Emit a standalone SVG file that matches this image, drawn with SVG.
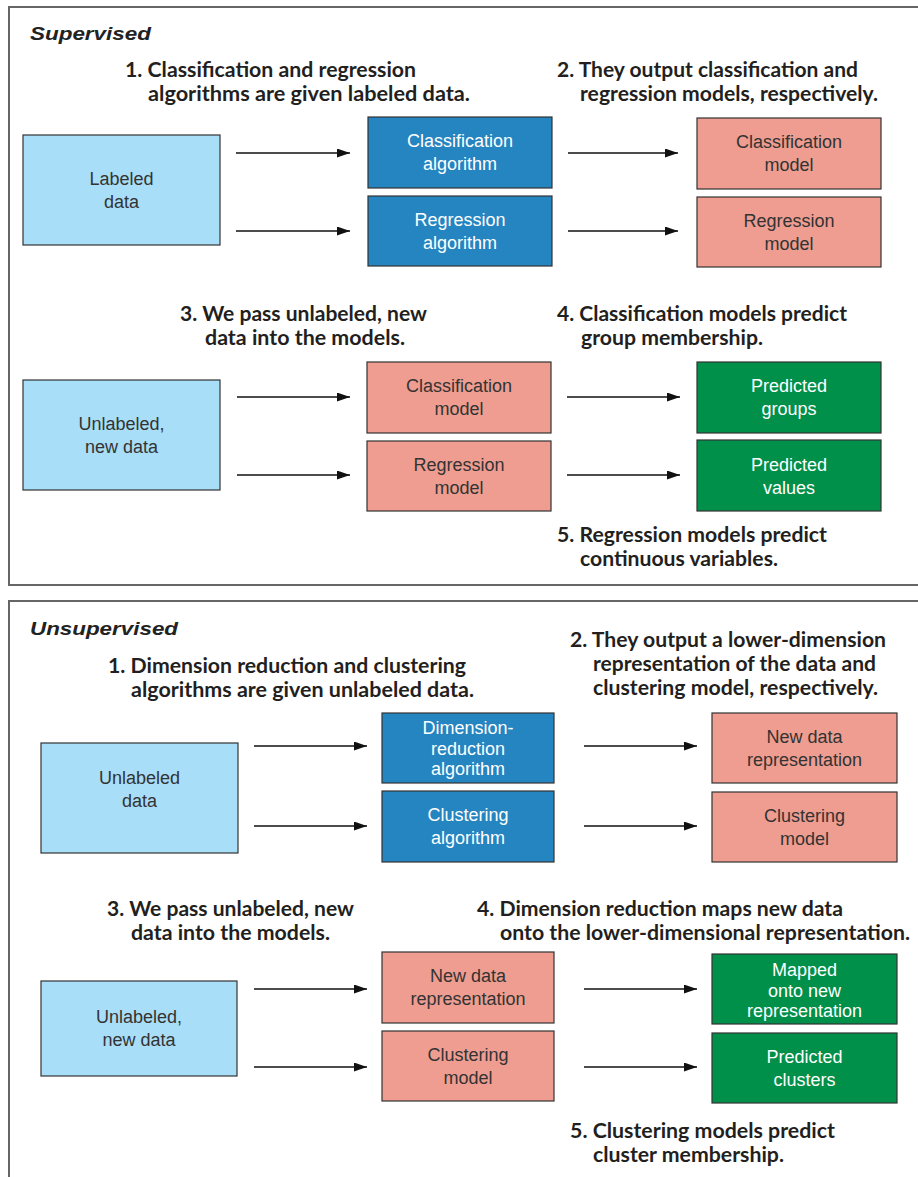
<svg xmlns="http://www.w3.org/2000/svg" width="918" height="1177" viewBox="0 0 918 1177">
  <style>
    .frame { fill: none; stroke: #666666; stroke-width: 2; }
    .box { stroke: #333333; stroke-width: 1.2; }
    .input { fill: #A9DEF8; }
    .algo { fill: #2585C0; }
    .model { fill: #EE9D90; }
    .result { fill: #00904A; }
    .lbl { font-family: "Liberation Sans", Arial, sans-serif; font-size: 18px; text-anchor: middle; }
    .dark { fill: #333333; }
    .light { fill: #FFFFFF; }
    .title { font-family: "Liberation Sans", Arial, sans-serif; font-size: 19px; font-weight: bold; font-style: italic; fill: #222222; }
    .step { font-family: Lato, "Open Sans", sans-serif; font-size: 21px; font-weight: bold; fill: #231F20; }
    .conn line { stroke: #111111; stroke-width: 1.3; marker-end: url(#arrow); }
  </style>
  <defs>
    <marker id="arrow" markerUnits="userSpaceOnUse" markerWidth="14" markerHeight="10" refX="13" refY="4.5" orient="auto">
      <path d="M0,0 L13,4.5 L0,9 Z" fill="#111111"/>
    </marker>
  </defs>

  <rect width="918" height="1177" fill="#FFFFFF"/>

  <!-- section frames -->
  <rect class="frame" x="9" y="7" width="915" height="578"/>
  <path class="frame" d="M924 601 H9 V1180"/>

  <!-- section titles -->
  <text class="title" x="30" y="40" textLength="121" lengthAdjust="spacingAndGlyphs">Supervised</text>
  <text class="title" x="30" y="635" textLength="148" lengthAdjust="spacingAndGlyphs">Unsupervised</text>

  <!-- step captions, supervised -->
  <g id="step-s1">
    <text class="step" x="125" y="77" textLength="291" lengthAdjust="spacingAndGlyphs">1. Classification and regression</text>
    <text class="step" x="148" y="101" textLength="322" lengthAdjust="spacingAndGlyphs">algorithms are given labeled data.</text>
  </g>
  <g id="step-s2">
    <text class="step" x="557" y="77" textLength="301" lengthAdjust="spacingAndGlyphs">2. They output classification and</text>
    <text class="step" x="580" y="101" textLength="298" lengthAdjust="spacingAndGlyphs">regression models, respectively.</text>
  </g>
  <g id="step-s3">
    <text class="step" x="180" y="321" textLength="247" lengthAdjust="spacingAndGlyphs">3. We pass unlabeled, new</text>
    <text class="step" x="205" y="345" textLength="200" lengthAdjust="spacingAndGlyphs">data into the models.</text>
  </g>
  <g id="step-s4">
    <text class="step" x="557" y="321" textLength="290" lengthAdjust="spacingAndGlyphs">4. Classification models predict</text>
    <text class="step" x="581" y="345" textLength="182" lengthAdjust="spacingAndGlyphs">group membership.</text>
  </g>
  <g id="step-s5">
    <text class="step" x="557" y="542" textLength="270" lengthAdjust="spacingAndGlyphs">5. Regression models predict</text>
    <text class="step" x="580" y="566" textLength="198" lengthAdjust="spacingAndGlyphs">continuous variables.</text>
  </g>

  <!-- step captions, unsupervised -->
  <g id="step-u1">
    <text class="step" x="108" y="673" textLength="358" lengthAdjust="spacingAndGlyphs">1. Dimension reduction and clustering</text>
    <text class="step" x="131" y="697" textLength="343" lengthAdjust="spacingAndGlyphs">algorithms are given unlabeled data.</text>
  </g>
  <g id="step-u2">
    <text class="step" x="570" y="647" textLength="316" lengthAdjust="spacingAndGlyphs">2. They output a lower-dimension</text>
    <text class="step" x="593" y="671" textLength="283" lengthAdjust="spacingAndGlyphs">representation of the data and</text>
    <text class="step" x="593" y="695" textLength="285" lengthAdjust="spacingAndGlyphs">clustering model, respectively.</text>
  </g>
  <g id="step-u3">
    <text class="step" x="107" y="916" textLength="247" lengthAdjust="spacingAndGlyphs">3. We pass unlabeled, new</text>
    <text class="step" x="131" y="940" textLength="199" lengthAdjust="spacingAndGlyphs">data into the models.</text>
  </g>
  <g id="step-u4">
    <text class="step" x="477" y="916" textLength="366" lengthAdjust="spacingAndGlyphs">4. Dimension reduction maps new data</text>
    <text class="step" x="500" y="940" textLength="410" lengthAdjust="spacingAndGlyphs">onto the lower-dimensional representation.</text>
  </g>
  <g id="step-u5">
    <text class="step" x="570" y="1138" textLength="265" lengthAdjust="spacingAndGlyphs">5. Clustering models predict</text>
    <text class="step" x="593" y="1162" textLength="191" lengthAdjust="spacingAndGlyphs">cluster membership.</text>
  </g>

  <!-- supervised nodes -->
  <g id="labeled-data">
    <rect class="box input" x="23" y="135" width="197" height="110"/>
    <text class="lbl dark" x="121.5" y="185">Labeled</text>
    <text class="lbl dark" x="121.5" y="207.5">data</text>
  </g>
  <g id="classification-algorithm">
    <rect class="box algo" x="368" y="117" width="184" height="71"/>
    <text class="lbl light" x="460" y="147">Classification</text>
    <text class="lbl light" x="460" y="169.5">algorithm</text>
  </g>
  <g id="regression-algorithm">
    <rect class="box algo" x="368" y="196" width="184" height="70"/>
    <text class="lbl light" x="460" y="226">Regression</text>
    <text class="lbl light" x="460" y="248.5">algorithm</text>
  </g>
  <g id="classification-model-out">
    <rect class="box model" x="697" y="118" width="184" height="71"/>
    <text class="lbl dark" x="789" y="148">Classification</text>
    <text class="lbl dark" x="789" y="170.5">model</text>
  </g>
  <g id="regression-model-out">
    <rect class="box model" x="697" y="197" width="184" height="70"/>
    <text class="lbl dark" x="789" y="227">Regression</text>
    <text class="lbl dark" x="789" y="249.5">model</text>
  </g>
  <g id="unlabeled-new-data-s">
    <rect class="box input" x="23" y="380" width="197" height="110"/>
    <text class="lbl dark" x="121.5" y="430">Unlabeled,</text>
    <text class="lbl dark" x="121.5" y="452.5">new data</text>
  </g>
  <g id="classification-model-in">
    <rect class="box model" x="367" y="362" width="184" height="71"/>
    <text class="lbl dark" x="459" y="392">Classification</text>
    <text class="lbl dark" x="459" y="414.5">model</text>
  </g>
  <g id="regression-model-in">
    <rect class="box model" x="367" y="441" width="184" height="70"/>
    <text class="lbl dark" x="459" y="471">Regression</text>
    <text class="lbl dark" x="459" y="493.5">model</text>
  </g>
  <g id="predicted-groups">
    <rect class="box result" x="697" y="362" width="184" height="71"/>
    <text class="lbl light" x="789" y="392">Predicted</text>
    <text class="lbl light" x="789" y="414.5">groups</text>
  </g>
  <g id="predicted-values">
    <rect class="box result" x="697" y="440" width="184" height="71"/>
    <text class="lbl light" x="789" y="471">Predicted</text>
    <text class="lbl light" x="789" y="493.5">values</text>
  </g>

  <!-- unsupervised nodes -->
  <g id="unlabeled-data">
    <rect class="box input" x="41" y="743" width="197" height="110"/>
    <text class="lbl dark" x="139.5" y="784">Unlabeled</text>
    <text class="lbl dark" x="139.5" y="806.5">data</text>
  </g>
  <g id="dimension-reduction-algorithm">
    <rect class="box algo" x="382" y="713" width="172" height="70"/>
    <text class="lbl light" x="468" y="734">Dimension-</text>
    <text class="lbl light" x="468" y="754.5">reduction</text>
    <text class="lbl light" x="468" y="775">algorithm</text>
  </g>
  <g id="clustering-algorithm">
    <rect class="box algo" x="382" y="791" width="172" height="71"/>
    <text class="lbl light" x="468" y="821">Clustering</text>
    <text class="lbl light" x="468" y="843.5">algorithm</text>
  </g>
  <g id="new-data-representation-out">
    <rect class="box model" x="712" y="713" width="185" height="70"/>
    <text class="lbl dark" x="804.5" y="743">New data</text>
    <text class="lbl dark" x="804.5" y="765.5">representation</text>
  </g>
  <g id="clustering-model-out">
    <rect class="box model" x="712" y="792" width="185" height="70"/>
    <text class="lbl dark" x="804.5" y="822">Clustering</text>
    <text class="lbl dark" x="804.5" y="844.5">model</text>
  </g>
  <g id="unlabeled-new-data-u">
    <rect class="box input" x="41" y="981" width="196" height="95"/>
    <text class="lbl dark" x="139" y="1023">Unlabeled,</text>
    <text class="lbl dark" x="139" y="1045.5">new data</text>
  </g>
  <g id="new-data-representation-in">
    <rect class="box model" x="382" y="952" width="172" height="71"/>
    <text class="lbl dark" x="468" y="982">New data</text>
    <text class="lbl dark" x="468" y="1004.5">representation</text>
  </g>
  <g id="clustering-model-in">
    <rect class="box model" x="382" y="1031" width="172" height="70"/>
    <text class="lbl dark" x="468" y="1061">Clustering</text>
    <text class="lbl dark" x="468" y="1083.5">model</text>
  </g>
  <g id="mapped-representation">
    <rect class="box result" x="712" y="954" width="185" height="70"/>
    <text class="lbl light" x="804.5" y="976">Mapped</text>
    <text class="lbl light" x="804.5" y="996.5">onto new</text>
    <text class="lbl light" x="804.5" y="1017">representation</text>
  </g>
  <g id="predicted-clusters">
    <rect class="box result" x="712" y="1033" width="185" height="70"/>
    <text class="lbl light" x="804.5" y="1063">Predicted</text>
    <text class="lbl light" x="804.5" y="1085.5">clusters</text>
  </g>

  <!-- connectors -->
  <g class="conn" id="connectors">
    <line x1="236" y1="153" x2="350" y2="153"/>
    <line x1="236" y1="231" x2="350" y2="231"/>
    <line x1="568" y1="153" x2="678" y2="153"/>
    <line x1="568" y1="231" x2="678" y2="231"/>
    <line x1="237" y1="397" x2="350" y2="397"/>
    <line x1="237" y1="475" x2="350" y2="475"/>
    <line x1="567" y1="397" x2="680" y2="397"/>
    <line x1="567" y1="475" x2="680" y2="475"/>
    <line x1="254" y1="746" x2="367" y2="746"/>
    <line x1="254" y1="826" x2="367" y2="826"/>
    <line x1="584" y1="746" x2="697" y2="746"/>
    <line x1="584" y1="826" x2="697" y2="826"/>
    <line x1="254" y1="989" x2="367" y2="989"/>
    <line x1="254" y1="1067" x2="367" y2="1067"/>
    <line x1="584" y1="989" x2="697" y2="989"/>
    <line x1="584" y1="1067" x2="697" y2="1067"/>
  </g>
</svg>
